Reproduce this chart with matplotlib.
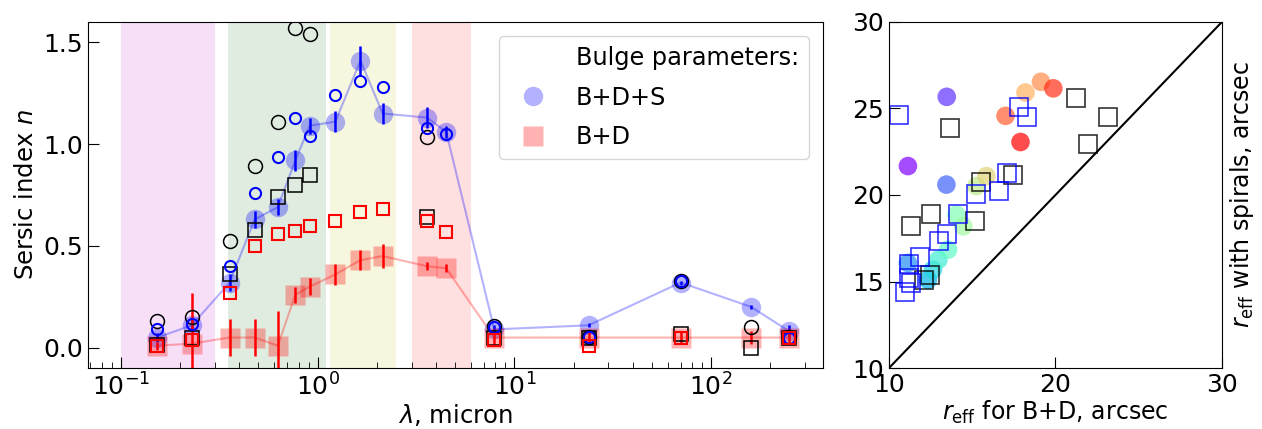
import numpy as np
import matplotlib.pyplot as plt
from matplotlib.lines import Line2D

# wavelengths (micron): FUV NUV u g r i z J H Ks 3.6 4.5 8 24 70 160 250
wl = [0.153, 0.229, 0.357, 0.478, 0.627, 0.77, 0.91, 1.23, 1.65, 2.14,
      3.6, 4.5, 7.9, 23.8, 70, 160, 250]
nan = np.nan

# B+D+S fit
n_bds = [0.05, 0.11, 0.32, 0.63, 0.69, 0.92, 1.09, 1.11, 1.41, 1.15,
         1.13, 1.06, 0.09, 0.11, 0.32, 0.20, 0.08]
err_bds = [0.02, 0.03, 0.04, 0.04, 0.04, 0.05, 0.04, 0.05, 0.07, 0.05,
           0.05, 0.03, 0.02, 0.01, 0.01, 0.01, 0.03]
# B+D fit
n_bd = [0.01, 0.02, 0.05, 0.05, 0.01, 0.26, 0.30, 0.36, 0.43, 0.45,
        0.40, 0.39, 0.05, 0.05, 0.05, 0.05, 0.05]
err_bd = [0.02, 0.25, 0.09, 0.09, 0.17, 0.04, 0.04, 0.05, 0.05, 0.06,
          0.02, 0.02, 0.03, 0.03, 0.03, 0.03, 0.03]

# other estimates (open markers)
n_blue_circ = [0.09, 0.115, 0.40, 0.76, 0.935, 1.13, 1.04, 1.24, 1.31, 1.28,
               1.08, 1.05, 0.10, 0.055, 0.33, nan, 0.05]
n_black_circ = [0.13, 0.15, 0.525, 0.89, 1.11, 1.57, 1.54, nan, nan, nan,
                1.035, nan, 0.105, 0.055, 0.33, 0.10, 0.055]
n_black_sq = [0.015, 0.05, 0.36, 0.58, 0.74, 0.80, 0.85, nan, nan, nan,
              0.64, nan, 0.05, 0.05, 0.065, 0.0, 0.05]
n_red_sq = [0.01, 0.04, 0.27, 0.50, 0.56, 0.575, 0.60, 0.62, 0.665, 0.68,
            0.62, 0.57, 0.04, 0.01, 0.05, nan, 0.05]

bands = [(0.1, 0.3, 'm', 0.12), (0.35, 1.1, 'darkgreen', 0.12),
         (1.15, 2.5, 'y', 0.12), (3.0, 6.0, 'r', 0.12)]

# right panel: effective radii
re_bd = [11.14, 13.47, 13.45, 11.14, 12.34, 12.64, 12.97, 13.55, 14.05, 14.46,
         15.25, 15.85, 18.2, 19.13, 17.0, 19.87, 17.9]
re_bds = [21.67, 25.67, 20.6, 16.07, 15.1, 15.68, 16.26, 16.84, 18.87, 18.19,
          20.51, 21.09, 25.92, 26.54, 24.57, 26.16, 23.06]
sq_black_x = [11.3, 12.55, 15.19, 15.55, 17.45, 12.45, 12.1, 13.66, 21.24, 23.14, 21.94]
sq_black_y = [18.19, 18.93, 18.48, 20.74, 21.13, 15.39, 15.1, 23.89, 25.63, 24.51, 22.93]
sq_blue_x = [10.58, 17.83, 18.27, 17.1, 16.59, 15.21, 14.15, 13.5, 13.0, 11.84,
             11.18, 11.3, 11.18, 10.95]
sq_blue_y = [24.61, 25.11, 24.48, 21.29, 20.22, 20.03, 18.93, 17.77, 17.32, 16.42,
             16.03, 14.91, 15.2, 14.42]

fig = plt.figure(figsize=(12.62, 4.29), dpi=100)
ax = fig.add_axes([0.0697, 0.142, 0.5824, 0.807])
ax2 = fig.add_axes([0.7044, 0.142, 0.2639, 0.807])

for lo, hi, c, a in bands:
    ax.axvspan(lo, hi, color=c, alpha=a, lw=0)

ax.plot(wl, n_bds, '-', color='b', alpha=0.3, lw=1.5)
ax.plot(wl, n_bds, 'o', color='b', alpha=0.3, ms=14, mec='none')
ax.errorbar(wl, n_bds, yerr=err_bds, fmt='none', ecolor='b', elinewidth=1.8)
ax.plot(wl, n_bd, '-', color='r', alpha=0.3, lw=1.5)
ax.plot(wl, n_bd, 's', color='r', alpha=0.3, ms=14, mec='none')
ax.errorbar(wl, n_bd, yerr=err_bd, fmt='none', ecolor='r', elinewidth=1.8)

ax.plot(wl, n_black_circ, 'o', mfc='none', mec='k', ms=10, mew=1.1)
ax.plot(wl, n_black_sq, 's', mfc='none', mec='k', ms=10, mew=1.1)
ax.plot(wl, n_blue_circ, 'o', mfc='none', mec='b', ms=8, mew=1.5)
ax.plot(wl, n_red_sq, 's', mfc='none', mec='r', ms=8, mew=1.5)

ax.set_xscale('log')
ax.set_xlim(0.068, 370)
ax.set_ylim(-0.1, 1.6)
ax.set_yticks([0.0, 0.5, 1.0, 1.5])
ax.tick_params(which='both', direction='in', labelsize=18)
ax.tick_params(which='major', length=8)
ax.tick_params(which='minor', length=4)
ax.set_xlabel(r'$\lambda$, micron', fontsize=17.5, labelpad=1)
ax.set_ylabel(r'Sersic index $n$', fontsize=17.5)

handles = [Line2D([], [], ls='none', marker='none'),
           Line2D([], [], ls='none', marker='o', color='b', alpha=0.3, ms=14, mec='none'),
           Line2D([], [], ls='none', marker='s', color='r', alpha=0.3, ms=14, mec='none')]
ax.legend(handles, ['Bulge parameters:', 'B+D+S', 'B+D'], loc='upper right',
          fontsize=17.3, labelspacing=0.65, borderaxespad=0.6)

cols = plt.cm.rainbow(np.linspace(0, 1, len(re_bd)))
ax2.scatter(re_bd, re_bds, c=cols, s=180, alpha=0.7, edgecolors='none')
ax2.plot(sq_black_x, sq_black_y, 's', mfc='none', mec='k', ms=13, mew=1.2, alpha=0.8)
ax2.plot(sq_blue_x, sq_blue_y, 's', mfc='none', mec='b', ms=13, mew=1.2, alpha=0.8)
ax2.plot([10, 30], [10, 30], 'k-', lw=1.5)
ax2.set_xlim(10, 30)
ax2.set_ylim(10, 30)
ax2.set_xticks([10, 20, 30])
ax2.set_yticks([10, 15, 20, 25, 30])
ax2.tick_params(direction='in', length=8, labelsize=18)
ax2.set_xlabel(r'$r_{\rm eff}$ for B+D, arcsec', fontsize=17, labelpad=1)
ax2.set_ylabel(r'$r_{\rm eff}$ with spirals, arcsec', fontsize=17)
ax2.yaxis.set_label_position('right')

fig.savefig('out.png', dpi=100)
